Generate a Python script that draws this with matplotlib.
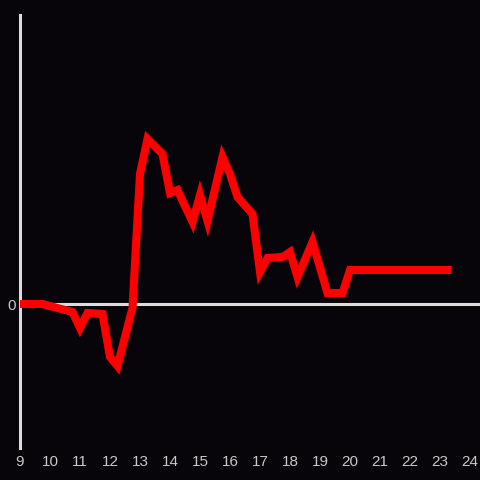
import matplotlib
matplotlib.use('Agg')
import matplotlib.pyplot as plt

# Hours of the day (quarter-hour samples) and the plotted values
hours = [9.0, 9.75, 10.75, 11.0, 11.25, 11.75, 12.0, 12.25, 12.75, 13.0,
         13.25, 13.75, 14.0, 14.25, 14.75, 15.0, 15.25, 15.75, 16.0, 16.25,
         16.75, 17.0, 17.25, 17.75, 18.0, 18.25, 18.75, 19.25, 19.75, 20.0,
         23.25]
values = [0, 0, -8, -24, -9, -10, -53, -62, -4, 130,
          165, 150, 111, 114, 82, 109, 83, 147, 130, 107,
          90, 32, 46, 47, 52, 27, 62, 11, 11, 34,
          34]
x_ticks = list(range(9, 25))

bg = '#070509'
axis_color = '#dcdcdc'
label_color = '#c8c8c8'

plt.rcParams['font.family'] = ['Liberation Sans', 'DejaVu Sans']

fig = plt.figure(figsize=(4.8, 4.8), dpi=100, facecolor=bg)
ax = fig.add_axes([20 / 480, 32 / 480, 460 / 480, 433 / 480], facecolor=bg)

ax.axhline(0, color=axis_color, linewidth=2.2, zorder=1)
ax.plot(hours, values, color='#ff0000', linewidth=5.8,
        solid_joinstyle='miter', solid_capstyle='projecting', zorder=3)

ax.set_xlim(9, 9 + 460 / 30)
ax.set_ylim(-144, 289)

ax.set_xticks(x_ticks)
ax.set_xticklabels([str(t) for t in x_ticks])
ax.set_yticks([0])
ax.set_yticklabels(['0'])
ax.tick_params(axis='both', length=0, colors=label_color, labelsize=11)
ax.tick_params(axis='x', pad=5)
ax.tick_params(axis='y', pad=3)

for side in ['top', 'right', 'bottom']:
    ax.spines[side].set_visible(False)
ax.spines['left'].set_color(axis_color)
ax.spines['left'].set_linewidth(2.2)

fig.savefig('out.png', dpi=100, facecolor=bg)
